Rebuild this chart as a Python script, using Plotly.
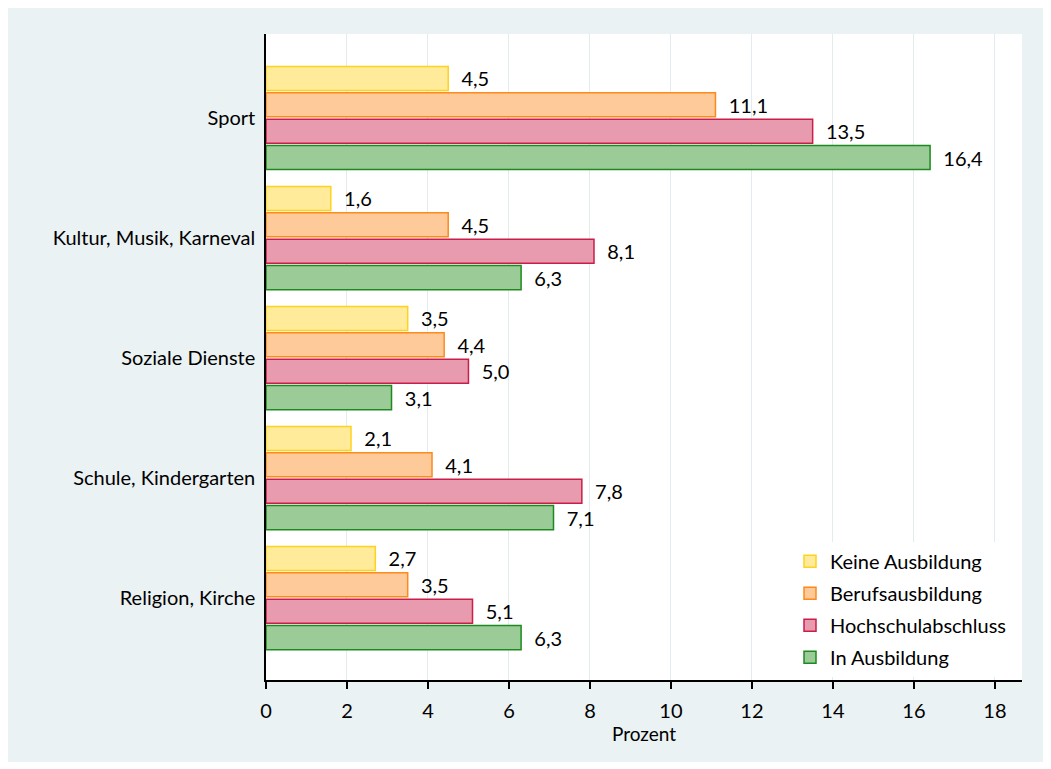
import plotly.graph_objects as go

# data (Prozent)
categories = ["Sport", "Kultur, Musik, Karneval", "Soziale Dienste", "Schule, Kindergarten", "Religion, Kirche"]
keine_ausbildung = [4.5, 1.6, 3.5, 2.1, 2.7]
berufsausbildung = [11.1, 4.5, 4.4, 4.1, 3.5]
hochschulabschluss = [13.5, 8.1, 5.0, 7.8, 5.1]
in_ausbildung = [16.4, 6.3, 3.1, 7.1, 6.3]

series = [
    ("Keine Ausbildung", keine_ausbildung, "#FFEB99", "#FFD21F"),
    ("Berufsausbildung", berufsausbildung, "#FFCA99", "#FF8A1C"),
    ("Hochschulabschluss", hochschulabschluss, "#E89BAE", "#C81E48"),
    ("In Ausbildung", in_ausbildung, "#9BCB96", "#1E8A1E"),
]

font_family = "Lato, Noto Sans, sans-serif"

fig = go.Figure()
for name, values, fill, line in series:
    fig.add_trace(go.Bar(
        y=categories, x=values, orientation="h", name=name, legendgroup=name,
        marker=dict(color=fill, line=dict(color=line, width=1.5)),
        # leading no-break spaces push the value labels away from the bar ends
        text=["\u00a0\u00a0" + f"{v:.1f}".replace(".", ",") for v in values],
        textposition="outside", cliponaxis=False,
        textfont=dict(size=20, color="black", family=font_family),
    ))

# the page body adds an 8px offset, so the figure is a bit smaller than the window
W, H = 1043, 761
ml, mr, mt, mb = 258, 29, 26, 89
pw, ph = W - ml - mr, H - mt - mb

fig.update_layout(
    width=W, height=H,
    margin=dict(l=ml, r=mr, t=mt, b=mb),
    paper_bgcolor="#EAF2F3", plot_bgcolor="white",
    font=dict(family=font_family, size=20, color="black"),
    barmode="group", bargap=0.12, bargroupgap=0.09,
    showlegend=True,
    legend=dict(
        x=(782 - ml) / pw, y=0.005, xanchor="left", yanchor="bottom",
        bgcolor="white", font=dict(size=20), tracegroupgap=3, traceorder="grouped",
    ),
    # white frame on the right and bottom edge of the grey-blue background
    shapes=[dict(type="rect", xref="paper", yref="paper", layer="above",
                 x0=-(ml + 8) / pw, x1=(W - ml) / pw, y0=-mb / ph, y1=(H - mb + 8) / ph,
                 line=dict(color="white", width=14), fillcolor="rgba(0,0,0,0)")],
)

fig.update_xaxes(
    range=[0, 18.67], tickvals=list(range(0, 19, 2)),
    showgrid=True, gridcolor="#E2EBED", gridwidth=1, zeroline=False,
    showline=True, linecolor="black", linewidth=1.5,
    ticks="outside", ticklen=7, tickcolor="black", tickwidth=1.5,
    ticklabelstandoff=5, tickfont=dict(size=20),
    title=dict(text="Prozent", font=dict(size=19), standoff=0),
)
fig.update_yaxes(
    range=[4.683, -0.7], showgrid=False, zeroline=False,
    showline=True, linecolor="black", linewidth=1.5,
    ticks="", ticklabelstandoff=5, tickfont=dict(size=20),
)

fig.write_html("out.html")
